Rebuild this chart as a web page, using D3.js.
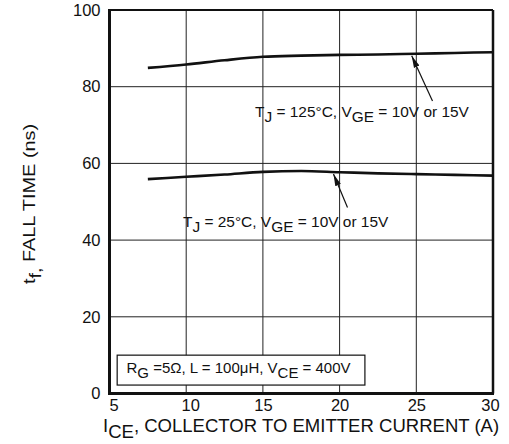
<!DOCTYPE html>
<html>
<head>
<meta charset="utf-8">
<script src="https://cdn.jsdelivr.net/npm/d3@7"></script>
<style>
  html, body { margin: 0; padding: 0; background: #fff; }
  svg { display: block; font-family: "Liberation Sans", Arial, Helvetica, sans-serif; }
  text { fill: #111; }
</style>
</head>
<body>
<svg id="chart" width="509" height="444"></svg>
<script>
// Collector current (A) sample points
const currentA = [7.5, 10, 12.5, 15, 17.5, 20, 22.5, 25, 27.5, 30];
// Fall time (ns) at TJ = 125°C
const tf125 = [84.9, 85.8, 86.9, 87.8, 88.1, 88.3, 88.4, 88.6, 88.8, 89.0];
// Fall time (ns) at TJ = 25°C
const tf25 = [55.9, 56.5, 57.1, 57.8, 58.0, 57.7, 57.4, 57.2, 57.0, 56.8];
// Axis ticks
const xTicks = [5, 10, 15, 20, 25, 30];
const yTicks = [0, 20, 40, 60, 80, 100];

const svg = d3.select("#chart");
const x = d3.scaleLinear().domain([5, 30]).range([109.5, 493]);
const y = d3.scaleLinear().domain([0, 100]).range([393.5, 10]);

// grid
const grid = svg.append("g").attr("stroke", "#222").attr("stroke-width", 1);
grid.selectAll("line.gx").data(xTicks.slice(1, -1)).join("line")
  .attr("x1", d => x(d)).attr("x2", d => x(d))
  .attr("y1", y(0)).attr("y2", y(100));
grid.selectAll("line.gy").data(yTicks.slice(1, -1)).join("line")
  .attr("x1", x(5)).attr("x2", x(30))
  .attr("y1", d => y(d)).attr("y2", d => y(d));

// frame: heavier left/bottom edges
const frame = svg.append("g").attr("stroke", "#111").attr("fill", "none");
frame.append("line").attr("x1", x(5)).attr("x2", x(30)).attr("y1", y(100)).attr("y2", y(100)).attr("stroke-width", 2);
frame.append("line").attr("x1", x(30)).attr("x2", x(30)).attr("y1", y(100)).attr("y2", y(0)).attr("stroke-width", 2.5);
frame.append("line").attr("x1", x(5) - 1.5).attr("x2", x(30) + 1).attr("y1", y(0)).attr("y2", y(0)).attr("stroke-width", 3);
frame.append("line").attr("x1", x(5)).attr("x2", x(5)).attr("y1", y(100) - 1).attr("y2", y(0) + 1.5).attr("stroke-width", 3);

// axes
const xShift = { 5: 4, 10: 4, 30: -3 };
const xAxis = svg.append("g").attr("transform", `translate(0,${y(0)})`)
  .call(d3.axisBottom(x).tickValues(xTicks).tickSize(0).tickPadding(0).tickFormat(d3.format("d")));
xAxis.select(".domain").remove();
xAxis.selectAll("text").attr("font-size", 16.5).attr("dy", 0).attr("y", 17.5)
  .attr("dx", d => xShift[d] || 0).style("fill", "#111");

const yAxis = svg.append("g").attr("transform", `translate(${x(5)},0)`)
  .call(d3.axisLeft(y).tickValues(yTicks).tickSize(0).tickPadding(9).tickFormat(d3.format("d")));
yAxis.select(".domain").remove();
yAxis.selectAll("text").attr("font-size", 16.5).style("fill", "#111");

// curves
const line = d3.line().x(d => x(d[0])).y(d => y(d[1])).curve(d3.curveMonotoneX);
[tf125, tf25].forEach(series => {
  svg.append("path")
    .datum(d3.zip(currentA, series))
    .attr("fill", "none").attr("stroke", "#111").attr("stroke-width", 2.6)
    .attr("d", line);
});

// arrowhead
svg.append("defs").append("marker")
  .attr("id", "ah").attr("viewBox", "0 0 12 10").attr("refX", 12).attr("refY", 5)
  .attr("markerWidth", 12).attr("markerHeight", 10).attr("markerUnits", "userSpaceOnUse")
  .attr("orient", "auto")
  .append("path").attr("d", "M0,2 L12,5 L0,8 Z").attr("fill", "#111");

function callout(tail, tip) {
  svg.append("line")
    .attr("x1", tail[0]).attr("y1", tail[1]).attr("x2", tip[0]).attr("y2", tip[1])
    .attr("stroke", "#111").attr("stroke-width", 1.2).attr("marker-end", "url(#ah)");
}
const interp = (xs, ys, v) => d3.scaleLinear().domain(xs).range(ys)(v);
const tip125 = [x(24.7), y(interp(currentA, tf125, 24.7)) + 2];
const tip25 = [x(19.6), y(interp(currentA, tf25, 19.6)) + 2];
callout([432.5, 101], tip125);
callout([347.5, 207.5], tip25);

// text with lowered subscripts; sx stretches it horizontally
function label(xp, yp, size, parts, sx = 1, rotate = 0) {
  const g = svg.append("g")
    .attr("transform", `translate(${xp},${yp}) rotate(${rotate}) scale(${sx},1)`);
  const t = g.append("text").attr("font-size", size)
    .attr("text-anchor", rotate ? "middle" : "start");
  parts.forEach(p => {
    t.append("tspan").attr("dy", p.dy || 0).text(p.s);
  });
  return t;
}
label(255, 117, 15, [
  { s: "T" }, { s: "J", dy: 4.5 }, { s: " = 125°C, V", dy: -4.5 },
  { s: "GE", dy: 4.5 }, { s: " = 10V or 15V", dy: -4.5 }
], 1.03);
label(183, 227, 15, [
  { s: "T" }, { s: "J", dy: 4.5 }, { s: " = 25°C, V", dy: -4.5 },
  { s: "GE", dy: 4.5 }, { s: " = 10V or 15V", dy: -4.5 }
], 1.03);

// conditions box
svg.append("rect")
  .attr("x", x(5.5)).attr("y", y(10))
  .attr("width", x(21.65) - x(5.5)).attr("height", y(2.2) - y(10))
  .attr("fill", "#fff").attr("stroke", "#111").attr("stroke-width", 1.2);
label(126.5, 373, 15, [
  { s: "R" }, { s: "G", dy: 4.5 }, { s: " =5Ω, L = 100μH, V", dy: -4.5 },
  { s: "CE", dy: 4.5 }, { s: " = 400V", dy: -4.5 }
], 1.0);

// axis titles
label(103, 432, 18, [
  { s: "I" }, { s: "CE", dy: 6 }, { s: ", COLLECTOR TO EMITTER CURRENT (A)", dy: -6 }
], 1.03);
label(35, 204, 17, [
  { s: "t" }, { s: "f,", dy: 5.5 }, { s: " FALL TIME (ns)", dy: -5.5 }
], 1.17, -90);
</script>
</body>
</html>
